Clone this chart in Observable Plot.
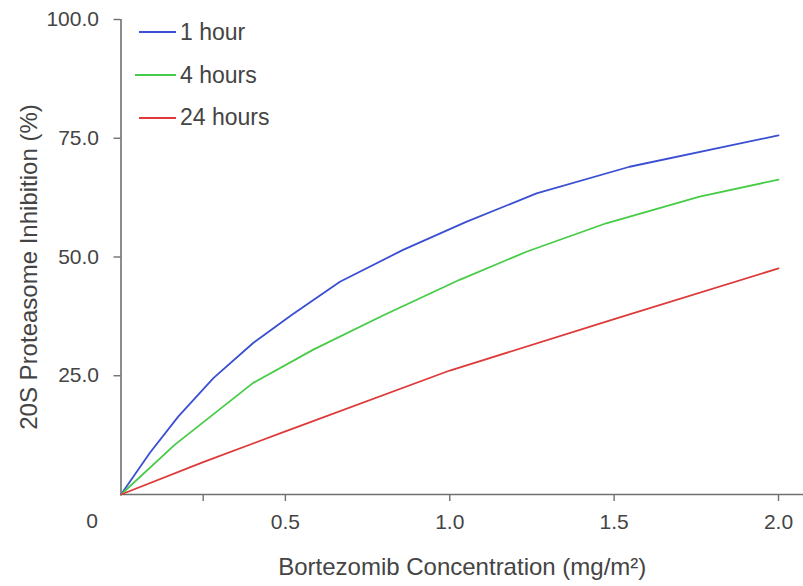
<!DOCTYPE html>
<html>
<head>
<meta charset="utf-8">
<script src="https://cdn.jsdelivr.net/npm/d3@7"></script>
<script src="https://cdn.jsdelivr.net/npm/@observablehq/plot@0.6"></script>
<style>
  html, body { margin: 0; padding: 0; background: #fff; }
  #wrap { position: relative; width: 803px; height: 586px; font-family: "Liberation Sans", Arial, Helvetica, sans-serif; }
  #legend { position: absolute; left: 135px; top: 11px; }
  .entry { display: flex; align-items: center; height: 42.7px; }
  .entry .swatch { width: 41px; height: 2px; margin-right: 4px; }
  .entry .name { font-size: 23px; color: #444; line-height: 1; }
  .entry:not(:nth-child(2)) .swatch { width: 37px; margin-left: 4px; }
</style>
</head>
<body>
<div id="wrap"><div id="legend"></div></div>
<script>
// Bortezomib dose (mg/m²) vs 20S proteasome inhibition (%), by time after dosing
const seriesNames = ["1 hour", "4 hours", "24 hours"];
const seriesColors = ["#3a4fd2", "#46cc46", "#de3a3a"];

const dose1h  = [0, 0.088, 0.174, 0.281, 0.402, 0.519, 0.666, 0.858, 1.05, 1.264, 1.547, 2.0];
const inhib1h = [0, 8.8, 16.4, 24.5, 31.9, 37.8, 44.8, 51.5, 57.4, 63.4, 69.0, 75.6];

const dose4h  = [0, 0.164, 0.402, 0.585, 0.8, 1.03, 1.233, 1.476, 1.76, 2.0];
const inhib4h = [0, 10.5, 23.5, 30.5, 37.8, 45.2, 51.1, 57.1, 62.7, 66.3];

const dose24h  = [0, 0.25, 0.5, 1.0, 1.5, 2.0];
const inhib24h = [0, 6.8, 13.3, 26.1, 36.9, 47.6];

const xTicks = [0.25, 0.5, 1.0, 1.5, 2.0];
const xTickLabels = ["", "0.5", "1.0", "1.5", "2.0"];
const yTicks = [25, 50, 75, 100];
const yTickLabels = ["25.0", "50.0", "75.0", "100.0"];
const originLabel = "0";
const xTitle = "Bortezomib Concentration (mg/m²)";
const yTitle = "20S Proteasome Inhibition (%)";

const rows = [
  ...dose1h.map((d, i) => ({series: seriesNames[0], dose: d, inhibition: inhib1h[i]})),
  ...dose4h.map((d, i) => ({series: seriesNames[1], dose: d, inhibition: inhib4h[i]})),
  ...dose24h.map((d, i) => ({series: seriesNames[2], dose: d, inhibition: inhib24h[i]}))
];

const axisColor = "#707070";
const textColor = "#444";

const chart = Plot.plot({
  width: 803,
  height: 586,
  marginLeft: 120.5,
  marginRight: 0,
  marginTop: 19,
  marginBottom: 92,
  style: {fontFamily: "'Liberation Sans', Arial, Helvetica, sans-serif", color: textColor, background: "transparent"},
  x: {domain: [0, 2.076]},
  y: {domain: [0, 100]},
  color: {domain: seriesNames, range: seriesColors},
  marks: [
    Plot.ruleX([0], {stroke: axisColor, strokeWidth: 1.6}),
    Plot.ruleY([0], {stroke: axisColor, strokeWidth: 1.6}),
    Plot.axisX(xTicks, {
      tickSize: 7, tickPadding: 13, fontSize: 21, stroke: axisColor, strokeWidth: 1.4,
      tickFormat: d => xTickLabels[xTicks.indexOf(d)], label: null
    }),
    Plot.axisY(yTicks, {
      tickSize: 7, tickPadding: 15, fontSize: 21, stroke: axisColor, strokeWidth: 1.4,
      tickFormat: d => yTickLabels[yTicks.indexOf(d)], label: null
    }),
    Plot.text([originLabel], {x: 0, y: 0, text: d => d, dx: -29, dy: 27, fontSize: 21, fill: textColor}),
    Plot.line(rows, {x: "dose", y: "inhibition", z: "series", stroke: "series", strokeWidth: 1.8, curve: "linear"}),
    Plot.text([yTitle], {
      frameAnchor: "left", text: d => d, rotate: -90, textAnchor: "middle", lineAnchor: "middle",
      dx: -92, dy: 10, fontSize: 24, fill: textColor
    }),
    Plot.text([xTitle], {
      frameAnchor: "bottom", text: d => d, textAnchor: "middle", lineAnchor: "middle",
      dy: 73, fontSize: 24, fill: textColor
    })
  ]
});

document.getElementById("wrap").prepend(chart);

// Series key drawn over the top-left of the plot area
const legend = d3.select("#legend");
seriesNames.forEach((name, i) => {
  const entry = legend.append("div").attr("class", "entry");
  entry.append("div").attr("class", "swatch").style("background", seriesColors[i]);
  entry.append("div").attr("class", "name").text(name);
});
</script>
</body>
</html>
